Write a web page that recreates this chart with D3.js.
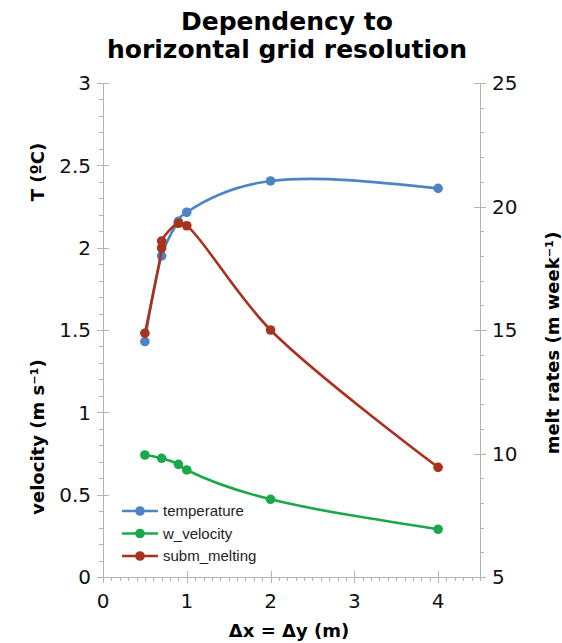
<!DOCTYPE html>
<html><head><meta charset="utf-8">
<script src="https://cdn.jsdelivr.net/npm/d3@7"></script>
<style>body{margin:0;background:#fff}svg{display:block}</style>
</head><body><svg id="c" width="562" height="643"></svg>
<script>
const xTemp = [0.5, 0.7, 0.9, 1, 2, 4];
const temperature = [1.43, 1.95, 2.16, 2.215, 2.405, 2.36];
const xVel = [0.5, 0.7, 0.9, 1, 2, 4];
const w_velocity = [0.741, 0.721, 0.684, 0.65, 0.472, 0.29];
const xMelt = [0.5, 0.7, 0.7, 0.9, 1, 2, 4];
const subm_melting = [14.87, 18.32, 18.6, 19.32, 19.22, 15.0, 9.44];
const xTicks = [0, 1, 2, 3, 4];
const leftTicks = [0, 0.5, 1, 1.5, 2, 2.5, 3];
const rightTicks = [5, 10, 15, 20, 25];
const seriesNames = ["temperature", "w_velocity", "subm_melting"];
const colors = ["#4f84c4", "#1aa84a", "#a8321c"];

const svg = d3.select("#c");
const x = d3.scaleLinear([0, 4.5], [103, 480]);
const yL = d3.scaleLinear([0, 3], [577, 83]);
const yR = d3.scaleLinear([5, 25], [577, 83]);
const axisCol = "#b3b3b3";
const font = "DejaVu Sans, sans-serif";

// title
const t = svg.append("text").attr("text-anchor", "middle").attr("font-family", font)
  .attr("font-weight", "bold").attr("font-size", 25);
t.append("tspan").attr("x", 287).attr("y", 30).text("Dependency to");
t.append("tspan").attr("x", 287).attr("y", 58).text("horizontal grid resolution");

const g = svg.append("g").attr("stroke", axisCol).attr("stroke-width", 1).attr("shape-rendering", "crispEdges");
// left axis
g.append("line").attr("x1", x(0)).attr("x2", x(0)).attr("y1", yL(3)).attr("y2", yL(0));
d3.range(0, 3.0001, 0.1).forEach(v => {
  const major = Math.abs(v * 2 - Math.round(v * 2)) < 1e-6;
  g.append("line").attr("x1", x(0) - (major ? 6 : 4)).attr("x2", x(0) + (major ? 6 : 0))
    .attr("y1", Math.round(yL(v)) + 0.5).attr("y2", Math.round(yL(v)) + 0.5);
});
// right axis
g.append("line").attr("x1", x(4.5)).attr("x2", x(4.5)).attr("y1", yR(25)).attr("y2", yR(5));
d3.range(5, 25.001, 1).forEach(v => {
  const major = v % 5 === 0;
  g.append("line").attr("x1", x(4.5) - (major ? 6 : 0)).attr("x2", x(4.5) + (major ? 6 : 4))
    .attr("y1", Math.round(yR(v)) + 0.5).attr("y2", Math.round(yR(v)) + 0.5);
});
// x axis
g.append("line").attr("x1", x(0)).attr("x2", x(4.5)).attr("y1", yL(0)).attr("y2", yL(0));
d3.range(0, 4.5001, 0.1).forEach(v => {
  const major = Math.abs(v - Math.round(v)) < 1e-6;
  g.append("line").attr("x1", Math.round(x(v)) + 0.5).attr("x2", Math.round(x(v)) + 0.5)
    .attr("y1", yL(0) - (major ? 6 : 0)).attr("y2", yL(0) + (major ? 6 : 4));
});

const tl = svg.append("g").attr("font-family", font).attr("font-size", 20).attr("fill", "#111");
leftTicks.forEach(v => tl.append("text").attr("x", 91).attr("y", yL(v)).attr("dy", "0.36em")
  .attr("text-anchor", "end").text(d3.format("")(v)));
rightTicks.forEach(v => tl.append("text").attr("x", 492).attr("y", yR(v)).attr("dy", "0.36em")
  .attr("text-anchor", "start").text(v));
xTicks.forEach(v => tl.append("text").attr("x", x(v)).attr("y", 608)
  .attr("text-anchor", "middle").text(v));

// axis titles
const at = svg.append("g").attr("font-family", font).attr("font-weight", "bold").attr("font-size", 18).attr("fill", "#000");
at.append("text").attr("transform", "translate(44,172) rotate(-90)").attr("text-anchor", "middle").text("T (ºC)");
at.append("text").attr("transform", "translate(44,437) rotate(-90)").attr("text-anchor", "middle").text("velocity (m s⁻¹)");
at.append("text").attr("transform", "translate(559,343) rotate(-90)").attr("text-anchor", "middle").text("melt rates (m week⁻¹)");
at.append("text").attr("x", 289).attr("y", 637).attr("text-anchor", "middle").text("Δx = Δy (m)");

// series
const data = [
  {xs: xTemp, ys: temperature, y: yL, curve: d3.curveNatural},
  {xs: xVel, ys: w_velocity, y: yL, curve: d3.curveNatural},
  {xs: xMelt, ys: subm_melting, y: yR, curve: d3.curveCatmullRom.alpha(0.5)}
];
data.forEach((s, i) => {
  const line = d3.line().curve(s.curve);
  const pts = s.xs.map((xv, j) => [x(xv), s.y(s.ys[j])]);
  svg.append("path").attr("d", line(pts)).attr("fill", "none").attr("stroke", colors[i]).attr("stroke-width", 2.6);
  pts.forEach(p => svg.append("circle").attr("cx", p[0]).attr("cy", p[1]).attr("r", 4.8).attr("fill", colors[i]));
});

// legend
const lg = svg.append("g").attr("font-family", "Liberation Sans, Arial, sans-serif").attr("font-size", 15).attr("fill", "#222");
seriesNames.forEach((n, i) => {
  const yy = 511 + i * 22.5;
  lg.append("line").attr("x1", 122).attr("x2", 158).attr("y1", yy).attr("y2", yy).attr("stroke", colors[i]).attr("stroke-width", 2.6);
  lg.append("circle").attr("cx", 140).attr("cy", yy).attr("r", 4.8).attr("fill", colors[i]);
  lg.append("text").attr("x", 163).attr("y", yy).attr("dy", "0.35em").text(n);
});
</script></body></html>
